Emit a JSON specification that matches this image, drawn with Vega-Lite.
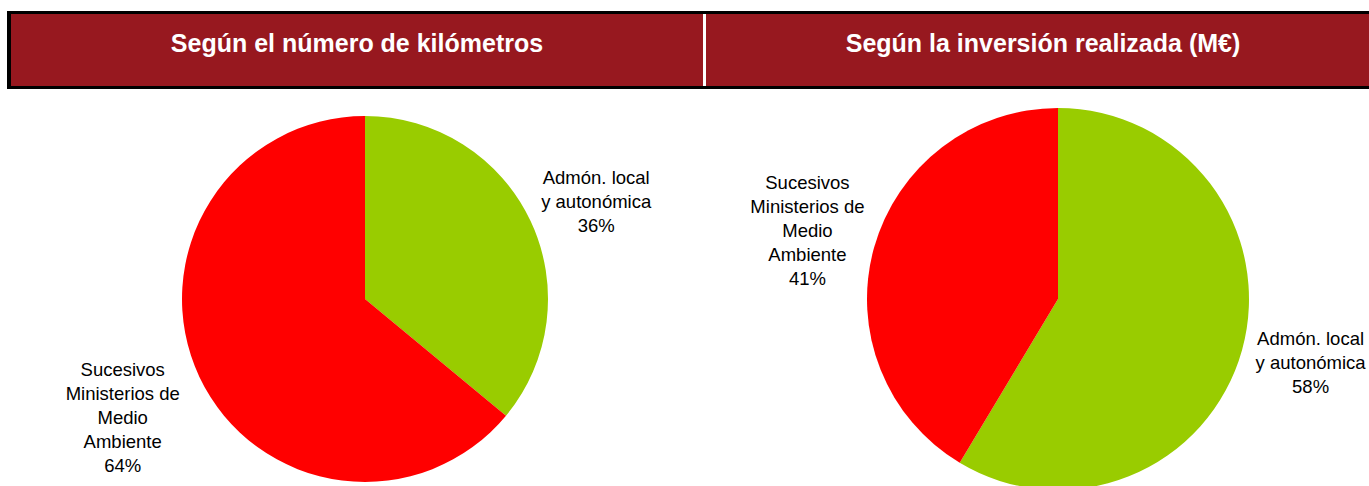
{
  "$schema": "https://vega.github.io/schema/vega-lite/v6.json",
  "padding": {"left": 7, "top": 11, "right": 0, "bottom": 0},
  "background": "white",
  "spacing": 0,
  "config": {"view": {"stroke": null}, "font": "Liberation Sans"},
  "datasets": {
    "km": [
      {"sector": "Admón. local y autonómica", "value": 36, "label": "Admón. local\ny autonómica\n36%"},
      {"sector": "Sucesivos Ministerios de Medio Ambiente", "value": 64, "label": "Sucesivos\nMinisterios de\nMedio\nAmbiente\n64%"}
    ],
    "inv": [
      {"sector": "Admón. local y autonómica", "value": 58.6, "label": "Admón. local\ny autonómica\n58%"},
      {"sector": "Sucesivos Ministerios de Medio Ambiente", "value": 41.4, "label": "Sucesivos\nMinisterios de\nMedio\nAmbiente\n41%"}
    ],
    "t1": [{"title": "Según el número de kilómetros"}],
    "t2": [{"title": "Según la inversión realizada (M€)"}],
    "blank": [{"k": 1}]
  },
  "vconcat": [
    {
      "width": 1373, "height": 3,
      "data": {"name": "blank"},
      "mark": {"type": "text", "text": "", "fontSize": 0},
      "view": {"fill": "black", "stroke": null}
    },
    {
      "hconcat": [
        {
          "hconcat": [
            {
              "width": 4, "height": 72,
              "data": {"name": "blank"},
              "mark": {"type": "text", "text": "", "fontSize": 0},
              "view": {"fill": "black", "stroke": null}
            },
            {
              "width": 692, "height": 72,
              "data": {"name": "t1"},
              "mark": {"type": "text", "color": "white", "fontWeight": "bold", "fontSize": 25, "dy": -6},
              "encoding": {"text": {"field": "title", "type": "nominal"}},
              "view": {"fill": "#97181F", "stroke": null}
            }
          ],
          "spacing": 0,
          "bounds": "flush"
        },
        {
          "width": 674, "height": 72,
          "data": {"name": "t2"},
          "mark": {"type": "text", "color": "white", "fontWeight": "bold", "fontSize": 25, "dy": -6},
          "encoding": {"text": {"field": "title", "type": "nominal"}},
          "view": {"fill": "#97181F", "stroke": null}
        }
      ],
      "spacing": 3
    },
    {
      "width": 1373, "height": 3,
      "data": {"name": "blank"},
      "mark": {"type": "text", "text": "", "fontSize": 0},
      "view": {"fill": "black", "stroke": null}
    },
    {
      "hconcat": [
        {
          "width": 716, "height": 420,
          "data": {"name": "km"},
          "encoding": {"theta": {"field": "value", "type": "quantitative", "stack": true}},
          "layer": [
            {
              "mark": {"type": "arc", "radius": 183},
              "encoding": {
                "color": {
                  "field": "sector", "type": "nominal",
                  "scale": {"domain": ["Admón. local y autonómica", "Sucesivos Ministerios de Medio Ambiente"], "range": ["#99CC00", "#FF0000"]},
                  "legend": null
                }
              }
            },
            {
              "mark": {"type": "text", "radius": 250, "dx": 5, "dy": -15, "lineBreak": "\n", "fontSize": 18.5, "lineHeight": 24, "color": "black"},
              "encoding": {
                "detail": {"field": "sector", "type": "nominal"},
                "text": {"condition": {"test": "datum.sector === 'Admón. local y autonómica'", "field": "label", "type": "nominal"}, "value": ""}
              }
            },
            {
              "mark": {"type": "text", "radius": 270, "dx": 2, "dy": -44, "lineBreak": "\n", "fontSize": 18.5, "lineHeight": 24, "color": "black"},
              "encoding": {
                "detail": {"field": "sector", "type": "nominal"},
                "text": {"condition": {"test": "datum.sector !== 'Admón. local y autonómica'", "field": "label", "type": "nominal"}, "value": ""}
              }
            }
          ]
        },
        {
          "width": 670, "height": 420,
          "data": {"name": "inv"},
          "encoding": {"theta": {"field": "value", "type": "quantitative", "stack": true}},
          "layer": [
            {
              "mark": {"type": "arc", "radius": 191},
              "encoding": {
                "color": {
                  "field": "sector", "type": "nominal",
                  "scale": {"domain": ["Admón. local y autonómica", "Sucesivos Ministerios de Medio Ambiente"], "range": ["#99CC00", "#FF0000"]},
                  "legend": null
                }
              }
            },
            {
              "mark": {"type": "text", "radius": 260, "dx": 2, "dy": -29, "lineBreak": "\n", "fontSize": 18.5, "lineHeight": 24, "color": "black"},
              "encoding": {
                "detail": {"field": "sector", "type": "nominal"},
                "text": {"condition": {"test": "datum.sector === 'Admón. local y autonómica'", "field": "label", "type": "nominal"}, "value": ""}
              }
            },
            {
              "mark": {"type": "text", "radius": 260, "dy": -47, "lineBreak": "\n", "fontSize": 18.5, "lineHeight": 24, "color": "black"},
              "encoding": {
                "detail": {"field": "sector", "type": "nominal"},
                "text": {"condition": {"test": "datum.sector !== 'Admón. local y autonómica'", "field": "label", "type": "nominal"}, "value": ""}
              }
            }
          ]
        }
      ],
      "spacing": 0,
      "bounds": "flush"
    }
  ]
}
